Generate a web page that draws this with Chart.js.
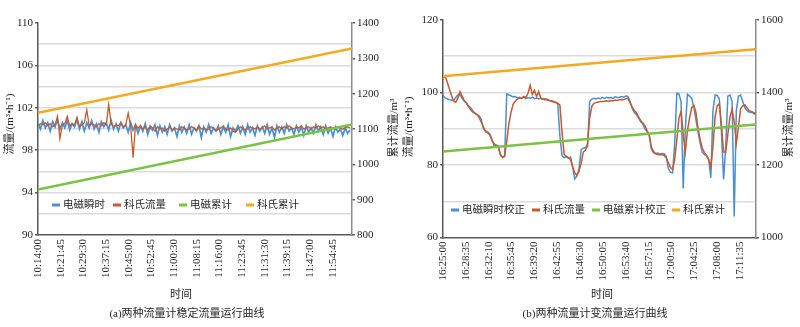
<!DOCTYPE html>
<html>
<head>
<meta charset="utf-8">
<script src="https://cdn.jsdelivr.net/npm/chart.js@4.4.1/dist/chart.umd.min.js"></script>
<style>
  body { margin: 0; background: #fff; }
  .panel { position: absolute; top: 0; width: 400px; height: 327px; }
  canvas { display: block; }
</style>
</head>
<body>
<div class="panel" style="left:0"><canvas id="chartA" width="400" height="327"></canvas></div>
<div class="panel" style="left:400px"><canvas id="chartB" width="400" height="327"></canvas></div>
<script>
const SERIF = "'Liberation Serif', 'Noto Sans CJK SC', serif";

// (a) steady flow, 10:14:00 onward
const tickLabelsA = ['10:14:00', '10:21:45', '10:29:30', '10:37:15', '10:45:00', '10:52:45', '11:00:30',
  '11:08:15', '11:16:00', '11:23:45', '11:31:30', '11:39:15', '11:47:00', '11:54:45'];
const tickStepA = 465;   // seconds between time labels
const sampleStepA = 50;  // seconds between samples
const emInstantA = [
  100.5, 100.0, 100.8, 100.1, 100.6, 99.8, 100.7, 100.2, 100.9, 100.0,
  100.6, 100.1, 100.8, 99.9, 100.5, 100.2, 100.9, 100.0, 100.7, 99.8,
  100.6, 100.1, 100.8, 100.0, 100.5, 99.7, 100.7, 100.2, 100.6, 99.9,
  100.8, 100.0, 100.5, 99.8, 100.6, 100.1, 100.4, 99.7, 100.6, 99.9,
  100.4, 99.6, 100.3, 99.8, 100.5, 99.5, 100.2, 99.9, 100.4, 99.4,
  100.3, 99.7, 100.2, 99.5, 100.4, 99.8, 100.1, 99.3, 100.3, 99.7,
  100.2, 99.6, 100.4, 99.5, 100.1, 99.8, 100.3, 99.2, 100.2, 99.7,
  100.4, 99.6, 100.1, 99.8, 100.3, 99.5, 100.2, 99.7, 100.4, 99.3,
  100.1, 99.8, 100.3, 99.6, 100.2, 99.5, 100.4, 99.7, 100.1, 99.4,
  100.3, 99.8, 100.2, 99.6, 100.4, 99.5, 100.1, 99.2, 100.3, 99.7,
  100.2, 99.6, 100.4, 99.8, 100.1, 99.5, 100.3, 99.7, 100.2, 99.4,
  100.3, 99.7, 100.1, 99.6, 100.4, 99.8, 100.2, 99.5, 100.3, 99.6,
  100.1, 99.3, 100.2, 99.7, 100.0, 99.4, 100.1, 99.6, 99.9
];
const coriolisFlowA = [
  100.3, 100.5, 100.4, 100.6, 100.3, 100.5, 100.2, 100.4, 101.2, 99.1,
  100.4, 100.5, 101.2, 100.3, 100.5, 100.4, 101.1, 100.2, 100.4, 100.6,
  101.8, 100.3, 100.5, 100.4, 100.2, 100.5, 100.3, 100.6, 100.4, 102.3,
  100.5, 100.2, 100.4, 100.3, 100.6, 100.2, 100.4, 101.5, 100.3, 97.3,
  100.4, 100.1, 100.3, 100.0, 100.2, 99.9, 100.3, 100.1, 99.8, 100.2,
  100.0, 100.1, 99.8, 100.0, 100.2, 99.9, 100.1, 100.0, 99.9, 100.2,
  100.1, 99.9, 100.0, 100.2, 100.1, 99.9, 100.3, 100.0, 100.1, 99.9,
  100.0, 100.2, 100.1, 99.8, 100.0, 100.1, 100.3, 100.0, 99.9, 100.1,
  99.8, 99.7, 100.0, 100.2, 100.1, 99.9, 100.0, 100.2, 100.1, 100.0,
  100.2, 100.0, 100.1, 100.3, 100.0, 100.1, 100.2, 99.9, 100.1, 100.2,
  100.0, 100.2, 100.1, 100.3, 100.1, 100.0, 100.2, 100.1, 100.3, 100.0,
  100.1, 100.2, 100.0, 100.2, 100.1, 100.3, 100.1, 100.2, 100.0, 100.1,
  100.2, 100.1, 100.0, 100.2, 100.1, 100.0, 100.1, 100.2, 100.1
];
const cumTimesA = [0, 6440];
const emTotalA = [929, 1113];
const coriolisTotalA = [1146, 1328];

// (b) variable flow, 16:25:00 onward
const tickLabelsB = ['16:25:00', '16:28:35', '16:32:10', '16:35:45', '16:39:20', '16:42:55', '16:46:30',
  '16:50:05', '16:53:40', '16:57:15', '17:00:50', '17:04:25', '17:08:00', '17:11:35'];
const tickStepB = 215;
const sampleStepB = 20;
const emCorrectedB = [
  99.2, 98.5, 98.2, 98.0, 97.9, 97.8, 98.6, 99.3, 99.4, 98.4,
  97.6, 97.2, 96.3, 95.8, 95.0, 94.2, 93.9, 93.6, 92.6, 90.0,
  89.4, 89.2, 88.6, 87.2, 85.4, 85.5, 85.3, 82.9, 82.2, 82.3,
  99.6, 99.3, 99.1, 98.8, 98.9, 98.5, 98.7, 98.4, 98.8, 98.3,
  98.6, 98.4, 98.7, 98.3, 98.5, 98.2, 98.4, 98.1, 98.3, 98.0,
  97.8, 97.6, 97.4, 97.2, 96.9, 88.0, 82.6, 82.0, 82.4, 81.9,
  82.2, 79.5, 76.2, 77.0, 79.0, 84.3, 84.6, 84.9, 85.0, 97.5,
  98.2, 98.4, 98.2, 98.5, 98.3, 98.6, 98.4, 98.7, 98.5, 98.6,
  98.4, 98.8, 98.6, 98.7, 98.9, 98.7, 99.0, 98.9, 97.6, 95.6,
  94.5, 93.9, 93.0, 91.9, 91.3, 90.0, 89.2, 88.2, 84.5, 83.4,
  83.2, 83.3, 83.0, 83.2, 83.1, 82.4, 79.1, 78.0, 77.8, 86.0,
  99.8, 99.6, 97.5, 73.5, 90.0, 99.5, 99.0, 98.4, 96.0, 92.5,
  89.0, 86.0, 83.5, 82.9, 82.5, 81.6, 76.5, 95.0, 99.3, 99.2,
  98.2, 89.0, 76.0, 85.0, 99.0, 99.3, 97.5, 65.8, 95.0, 99.0,
  99.3, 97.5, 95.8, 95.0, 94.6, 94.5, 94.3, 93.9
];
const coriolisFlowB = [
  104.0, 104.6, 102.8, 101.0, 99.2, 97.6, 97.3, 98.5, 100.2, 99.0,
  97.8, 97.0, 96.1, 95.2, 94.6, 94.3, 93.9, 93.1, 91.8, 90.5,
  89.2, 88.9, 88.3, 86.8, 85.9, 85.4, 85.0, 82.8, 82.1, 82.5,
  86.5, 91.5, 94.5, 96.8, 97.6, 98.2, 98.5, 98.4, 98.9, 98.6,
  99.8, 102.0, 99.5, 100.6, 98.9, 100.3, 98.4, 98.2, 98.0, 98.1,
  97.8, 97.7, 97.5, 97.3, 97.0, 96.5, 89.0, 83.0, 82.3, 82.0,
  81.5, 79.5, 77.8, 77.2, 78.3, 80.5, 83.6, 84.0, 86.0, 93.0,
  96.2, 97.0, 97.2, 97.4, 97.5, 97.5, 97.6, 97.7, 97.6, 97.8,
  97.7, 97.9, 97.8, 98.0, 98.1, 98.0, 98.3, 98.4, 97.2, 96.0,
  95.0, 94.4, 93.3, 92.3, 91.6, 90.8, 89.5, 88.5, 85.0, 83.8,
  83.1, 82.9, 82.8, 82.8, 82.7, 82.0, 80.6, 79.3, 78.8, 81.5,
  87.0, 93.0, 94.8, 88.5, 83.5, 89.5, 93.0, 95.8, 96.4, 94.5,
  90.0, 87.0, 84.6, 83.4, 82.6, 81.5, 79.5, 85.0, 93.3, 96.3,
  96.9, 91.0, 83.6, 83.5, 88.5, 93.3, 95.4, 92.0, 86.0, 90.5,
  95.5, 96.3, 96.6, 95.8, 95.0, 94.8, 94.5, 94.2
];
const cumTimesB = [0, 2940];
const emTotalB = [1237, 1312];
const coriolisTotalB = [1445, 1519];

const colors = { em: '#4a8fd0', cor: '#c65a2b', emTotal: '#7cc242', corTotal: '#f4a91f' };
const TEXT = '#262626';

Chart.defaults.font.family = SERIF;
Chart.defaults.font.size = 11;
Chart.defaults.color = TEXT;

function series(values, step) { return values.map((v, i) => ({ x: i * step, y: v })); }
function pairs(times, values) { return times.map((t, i) => ({ x: t, y: values[i] })); }

function vText(ctx, text, x, y) {
  ctx.save();
  ctx.translate(x, y);
  ctx.rotate(-Math.PI / 2);
  ctx.textAlign = 'center';
  ctx.fillText(text, 0, 0);
  ctx.restore();
}

// axis titles, caption and in-plot legend
const panelText = {
  id: 'panelText',
  afterDraw(chart, args, o) {
    const ctx = chart.ctx;
    ctx.save();
    ctx.fillStyle = TEXT;
    ctx.textBaseline = 'middle';
    ctx.font = '11px ' + SERIF;
    vText(ctx, o.leftTitle, o.leftTitlePos[0], o.leftTitlePos[1]);
    vText(ctx, o.rightTitle, o.rightTitlePos[0], o.rightTitlePos[1]);
    ctx.textAlign = 'center';
    ctx.fillText('时间', o.xTitleX, 295);
    ctx.fillText(o.caption, o.captionX, 314);

    ctx.textAlign = 'left';
    ctx.font = '10.5px ' + SERIF;
    chart.data.datasets.forEach((ds, k) => {
      const x = o.legendXs[k];
      ctx.fillStyle = ds.borderColor;
      ctx.fillRect(x, o.legendY - 1.5, 8, 3);
      ctx.fillStyle = TEXT;
      ctx.fillText(ds.label, x + 11, o.legendY);
    });
    ctx.restore();
  }
};

function buildChart(id, p) {
  const left = p.leftAxis, right = p.rightAxis;
  return new Chart(document.getElementById(id), {
    type: 'line',
    data: {
      datasets: [
        { label: p.labels[0], data: series(p.em, p.sampleStep), borderColor: colors.em, borderWidth: p.emWidth, yAxisID: 'y', order: 3 },
        { label: p.labels[1], data: series(p.cor, p.sampleStep), borderColor: colors.cor, borderWidth: p.corWidth, yAxisID: 'y', order: 2 },
        { label: p.labels[2], data: pairs(p.cumTimes, p.emTotal), borderColor: colors.emTotal, borderWidth: 2.5, yAxisID: 'y1', order: 1 },
        { label: p.labels[3], data: pairs(p.cumTimes, p.corTotal), borderColor: colors.corTotal, borderWidth: 2.5, yAxisID: 'y1', order: 1 }
      ]
    },
    options: {
      responsive: false,
      animation: false,
      devicePixelRatio: 1,
      layout: { padding: { top: p.top, left: 0, right: 0, bottom: 0 } },
      elements: { point: { radius: 0 }, line: { tension: 0 } },
      plugins: {
        legend: { display: false },
        tooltip: { enabled: false },
        panelText: p.text
      },
      scales: {
        x: {
          type: 'linear', min: 0, max: p.xMax,
          afterFit: s => { s.height = p.xHeight; },
          afterBuildTicks: s => { s.ticks = p.tickLabels.map((_, k) => ({ value: k * p.tickStep })); },
          grid: { drawOnChartArea: false, drawTicks: false },
          border: { color: '#595959', width: 1.5 },
          ticks: { autoSkip: false, minRotation: 90, maxRotation: 90, padding: 4, callback: (v, i) => p.tickLabels[i] }
        },
        y: {
          position: 'left', min: left.min, max: left.max,
          afterFit: s => { s.width = p.leftWidth; },
          ticks: { stepSize: left.grid, padding: 2, callback: v => (v - left.min) % left.label === 0 ? String(v) : '' },
          grid: {
            lineWidth: 1.5, tickLength: 3,
            color: c => (c.tick.value === left.min || c.tick.value === left.max) ? 'rgba(0,0,0,0)' : '#dcdcdc',
            tickColor: c => (c.tick.value - left.min) % left.label === 0 ? '#595959' : 'rgba(0,0,0,0)'
          },
          border: { color: '#595959', width: 1.5 }
        },
        y1: {
          position: 'right', min: right.min, max: right.max,
          afterFit: s => { s.width = p.rightWidth; },
          ticks: { stepSize: right.step, padding: 2, callback: v => String(v) },
          grid: { drawOnChartArea: false, lineWidth: 1.5, tickLength: 3, tickColor: '#595959' },
          border: { color: '#8c8c8c', width: 1.5 }
        }
      }
    },
    plugins: [panelText]
  });
}

buildChart('chartA', {
  labels: ['电磁瞬时', '科氏流量', '电磁累计', '科氏累计'],
  em: emInstantA, cor: coriolisFlowA, sampleStep: sampleStepA, emWidth: 1.7, corWidth: 1.3,
  cumTimes: cumTimesA, emTotal: emTotalA, corTotal: coriolisTotalA,
  tickLabels: tickLabelsA, tickStep: tickStepA, xMax: 6440,
  leftAxis: { min: 90, max: 110, grid: 2, label: 4 },
  rightAxis: { min: 800, max: 1400, step: 100 },
  top: 23, xHeight: 92, leftWidth: 38, rightWidth: 48,
  text: {
    leftTitle: '流量/(m³•h⁻¹)', leftTitlePos: [10, 124],
    rightTitle: '累计流量/m³', rightTitlePos: [394, 128],
    xTitleX: 181, caption: '(a)两种流量计稳定流量运行曲线', captionX: 187,
    legendXs: [52, 113, 179, 246], legendY: 205
  }
});

buildChart('chartB', {
  labels: ['电磁瞬时校正', '科氏流量', '电磁累计校正', '科氏累计'],
  em: emCorrectedB, cor: coriolisFlowB, sampleStep: sampleStepB, emWidth: 1.5, corWidth: 1.5,
  cumTimes: cumTimesB, emTotal: emTotalB, corTotal: coriolisTotalB,
  tickLabels: tickLabelsB, tickStep: tickStepB, xMax: 2945,
  leftAxis: { min: 60, max: 120, grid: 10, label: 20 },
  rightAxis: { min: 1000, max: 1600, step: 200 },
  top: 20, xHeight: 89.5, leftWidth: 43, rightWidth: 44,
  text: {
    leftTitle: '流量/(m³•h⁻¹)', leftTitlePos: [9, 127],
    rightTitle: '累计流量/m³', rightTitlePos: [389, 128],
    xTitleX: 202, caption: '(b)两种流量计变流量运行曲线', captionX: 195,
    legendXs: [51, 132, 192, 272], legendY: 210
  }
});
</script>
</body>
</html>
